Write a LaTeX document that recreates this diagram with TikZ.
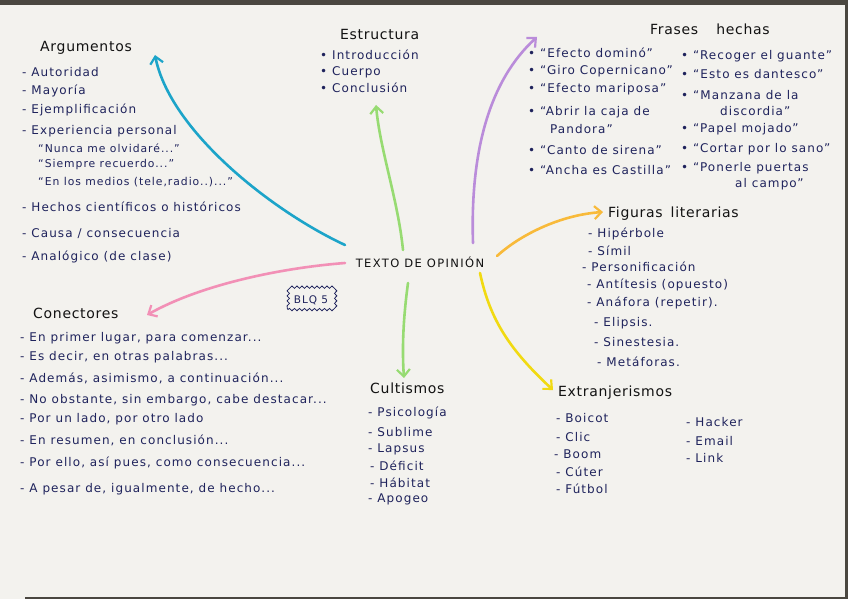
\documentclass[tikz,border=0pt]{standalone}
\usepackage{fontspec}
\setmainfont{DejaVu Sans}
\newfontfamily\handfont[LetterSpace=9]{DejaVu Sans}
\newfontfamily\headfont[LetterSpace=5]{DejaVu Sans}
\newfontfamily\titlefont[LetterSpace=12]{DejaVu Sans}
\usetikzlibrary{arrows.meta,decorations.pathmorphing}
\definecolor{paper}{HTML}{F3F2EE}
\definecolor{ink}{HTML}{1F235C}
\definecolor{headink}{HTML}{121212}
\definecolor{cTeal}{HTML}{1CA4C9}
\definecolor{cGreen}{HTML}{97DB72}
\definecolor{cPurple}{HTML}{BA8CDA}
\definecolor{cOrange}{HTML}{F8BA3A}
\definecolor{cYellow}{HTML}{F1DA12}
\definecolor{cPink}{HTML}{F290B6}
\definecolor{edge}{HTML}{4A4740}
\tikzset{
  item/.style={anchor=west, inner sep=0pt, text=ink, font=\handfont\fontsize{12}{14}\selectfont},
  quoteitem/.style={item, font=\handfont\fontsize{10.8}{13}\selectfont},
  head/.style={anchor=west, inner sep=0pt, text=headink, font=\headfont\fontsize{14}{16}\selectfont},
  arr/.style={line width=2.6pt, line cap=round,
    -{Straight Barb[length=7pt,width=13pt,line width=2.2pt]}},
}
\begin{document}
\begin{tikzpicture}[x=1pt,y=-1pt]
\useasboundingbox (0,0) rectangle (848,599);
\fill[paper] (0,0) rectangle (848,599);
\fill[edge] (0,0) rectangle (848,5);
\fill[edge] (845,0) rectangle (848,599);
\fill[edge] (25,597) rectangle (848,599);

% centre
\node[inner sep=1pt, text=headink, font=\titlefont\fontsize{11.5}{13}\selectfont] (center) at (420,262) {TEXTO DE OPINIÓN};
\node[draw=ink, line width=0.8pt, decorate, decoration={snake, amplitude=1.2pt, segment length=5pt},
      inner xsep=6pt, inner ysep=5pt, text=ink, font=\handfont\fontsize{10.5}{12}\selectfont] (blq) at (311,300) {BLQ 5};

% Argumentos
\node[head] (argH) at (40,48) {Argumentos};
\node[item] (arg1) at (22,72) {- Autoridad};
\node[item] (arg2) at (22,91) {- Mayoría};
\node[item] (arg3) at (22,110) {- Ejemplificación};
\node[item] (arg4) at (22,131) {- Experiencia personal};
\node[quoteitem] (arg5) at (38,148) {“Nunca me olvidaré...”};
\node[quoteitem] (arg6) at (38,165) {“Siempre recuerdo...”};
\node[quoteitem] (arg7) at (38,182) {“En los medios (tele,radio..)...”};
\node[item] (arg8) at (22,207) {- Hechos científicos o históricos};
\node[item] (arg9) at (22,233) {- Causa / consecuencia};
\node[item] (arg10) at (22,257) {- Analógico (de clase)};

% Estructura
\node[head] (estH) at (340,34) {Estructura};
\node[item] (est1) at (320,55) {• Introducción};
\node[item] (est2) at (320,72) {• Cuerpo};
\node[item] (est3) at (320,88) {• Conclusión};

% Frases hechas
\node[head] (fraH) at (650,29) {Frases\hspace{18pt}hechas};
\node[item] (fl1) at (528,53) {• “Efecto dominó”};
\node[item] (fl2) at (528,71) {• “Giro Copernicano”};
\node[item] (fl3) at (528,89) {• “Efecto mariposa”};
\node[item] (fl4) at (528,112) {• “Abrir la caja de};
\node[item] (fl5) at (550,129) {Pandora”};
\node[item] (fl6) at (528,150) {• “Canto de sirena”};
\node[item] (fl7) at (528,170) {• “Ancha es Castilla”};
\node[item] (fr1) at (681,56) {• “Recoger el guante”};
\node[item] (fr2) at (681,74) {• “Esto es dantesco”};
\node[item] (fr3) at (681,95) {• “Manzana de la};
\node[item] (fr4) at (720,111) {discordia”};
\node[item] (fr5) at (681,129) {• “Papel mojado”};
\node[item] (fr6) at (681,149) {• “Cortar por lo sano”};
\node[item] (fr7) at (681,168) {• “Ponerle puertas};
\node[item] (fr8) at (735,184) {al campo”};

% Figuras literarias
\node[head] (figH) at (608,214) {Figuras\hspace{8pt}literarias};
\node[item] (fig1) at (588,234) {- Hipérbole};
\node[item] (fig2) at (588,251) {- Símil};
\node[item] (fig3) at (582,267) {- Personificación};
\node[item] (fig4) at (587,285) {- Antítesis (opuesto)};
\node[item] (fig5) at (587,303) {- Anáfora (repetir).};
\node[item] (fig6) at (594,323) {- Elipsis.};
\node[item] (fig7) at (594,342) {- Sinestesia.};
\node[item] (fig8) at (597,362) {- Metáforas.};

% Conectores
\node[head] (conH) at (33,313) {Conectores};
\node[item] (con1) at (20,338) {- En primer lugar, para comenzar...};
\node[item] (con2) at (20,357) {- Es decir, en otras palabras...};
\node[item] (con3) at (20,378) {- Además, asimismo, a continuación...};
\node[item] (con4) at (20,400) {- No obstante, sin embargo, cabe destacar...};
\node[item] (con5) at (20,419) {- Por un lado, por otro lado};
\node[item] (con6) at (20,440) {- En resumen, en conclusión...};
\node[item] (con7) at (20,463) {- Por ello, así pues, como consecuencia...};
\node[item] (con8) at (20,489) {- A pesar de, igualmente, de hecho...};

% Cultismos
\node[head] (culH) at (370,388) {Cultismos};
\node[item] (cul1) at (368,413) {- Psicología};
\node[item] (cul2) at (368,432) {- Sublime};
\node[item] (cul3) at (368,449) {- Lapsus};
\node[item] (cul4) at (370,466) {- Déficit};
\node[item] (cul5) at (370,483) {- Hábitat};
\node[item] (cul6) at (368,499) {- Apogeo};

% Extranjerismos
\node[head] (extH) at (558,393) {Extranjerismos};
\node[item] (ext1) at (556,418) {- Boicot};
\node[item] (ext2) at (556,437) {- Clic};
\node[item] (ext3) at (554,454) {- Boom};
\node[item] (ext4) at (556,472) {- Cúter};
\node[item] (ext5) at (556,489) {- Fútbol};
\node[item] (ext6) at (686,422) {- Hacker};
\node[item] (ext7) at (686,441) {- Email};
\node[item] (ext8) at (686,458) {- Link};

% connector end points
\coordinate (s1) at (345,245); \coordinate (e1) at (155,55);
\coordinate (s2) at (403,250); \coordinate (e2) at (376,105);
\coordinate (s3) at (473,243); \coordinate (e3) at (537,37);
\coordinate (s4) at (497,256); \coordinate (e4) at (603,212);
\coordinate (s5) at (480,273); \coordinate (e5) at (553,390);
\coordinate (s6) at (345,263); \coordinate (e6) at (147,315);
\coordinate (s7) at (408,283); \coordinate (e7) at (404,378);

\draw[arr, cTeal] (s1) .. controls (270,210) and (170,130) .. (e1);
\draw[arr, cGreen] (s2) .. controls (398,200) and (380,150) .. (e2);
\draw[arr, cPurple] (s3) .. controls (470,150) and (490,80) .. (e3);
\draw[arr, cOrange] (s4) .. controls (520,235) and (560,215) .. (e4);
\draw[arr, cYellow] (s5) .. controls (490,320) and (510,350) .. (e5);
\draw[arr, cPink] (s6) .. controls (280,268) and (200,285) .. (e6);
\draw[arr, cGreen] (s7) .. controls (403,320) and (402,350) .. (e7);
\end{tikzpicture}
\end{document}
